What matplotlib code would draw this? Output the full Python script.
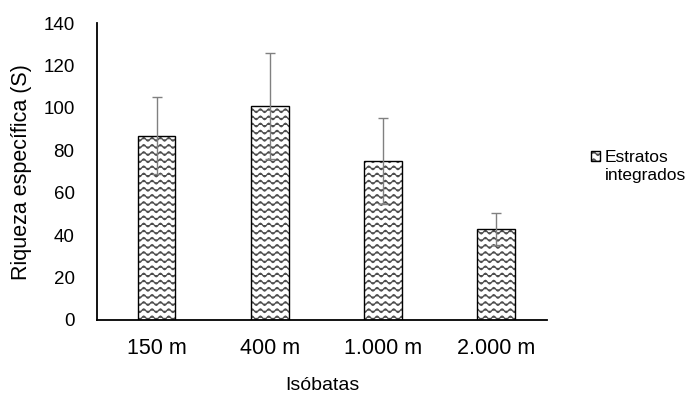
import warnings
import numpy as np
import matplotlib as mpl
mpl.use('Agg')
import matplotlib.pyplot as plt
from matplotlib import hatch as mhatch
from matplotlib.path import Path
from matplotlib.patches import Patch

warnings.filterwarnings('ignore')

isobatas = ['150 m', '400 m', '1.000 m', '2.000 m']
riqueza = [87, 101, 75, 43]
erro = [18, 25, 20.5, 7.5]


# wavy hatch ('~'), excel-like pattern
class WaveHatch(mhatch.HatchPatternBase):
    n_rows = 14
    n_waves = 12
    n_pts = 12 * 8 + 1

    def __init__(self, hatch, density):
        self.on = '~' in hatch
        self.num_vertices = self.n_rows * self.n_pts if self.on else 0

    def set_vertices_and_codes(self, vertices, codes):
        xs = np.linspace(0.0, 1.0, self.n_pts)
        ys = 0.018 * np.sin(2 * np.pi * self.n_waves * xs)
        for r in range(self.n_rows):
            y0 = (r + 0.5) / self.n_rows
            sl = slice(r * self.n_pts, (r + 1) * self.n_pts)
            vertices[sl, 0] = xs
            vertices[sl, 1] = y0 + ys
            codes[sl] = Path.LINETO
            codes[r * self.n_pts] = Path.MOVETO


mhatch._hatch_types.append(WaveHatch)

plt.rcParams['font.family'] = ['Liberation Sans', 'DejaVu Sans']
plt.rcParams['hatch.linewidth'] = 0.9

fig = plt.figure(figsize=(6.96, 4.0), dpi=100)
ax = fig.add_axes([0.139, 0.2, 0.647, 0.742])

x = np.arange(len(isobatas))
bars = ax.bar(x, riqueza, width=0.33, color='white', edgecolor='black',
              linewidth=1.0, hatch='~', zorder=2)
for b in bars:
    b._hatch_color = (0.3, 0.3, 0.3, 1.0)
ax.errorbar(x, riqueza, yerr=erro, fmt='none', ecolor='#808080',
            elinewidth=1.0, capsize=3.5, capthick=1.0, zorder=3)

ax.set_xlim(-0.53, 3.45)
ax.set_ylim(0, 140)
ax.set_yticks(range(0, 141, 20))
ax.set_xticks(x)
ax.set_xticklabels(isobatas)
ax.tick_params(axis='both', length=0)
ax.tick_params(axis='x', pad=13, labelsize=15.5)
ax.tick_params(axis='y', pad=16, labelsize=13.5)
for s in ['top', 'right']:
    ax.spines[s].set_visible(False)
ax.spines['left'].set_linewidth(1.3)
ax.spines['bottom'].set_linewidth(1.3)

ax.set_ylabel('Riqueza específica (S)', fontsize=15.5, labelpad=8)
ax.set_xlabel('Isóbatas', fontsize=14, labelpad=13)

# legend: handle next to the first line, second line without handle
blank = Patch(facecolor='none', edgecolor='none')
leg = fig.legend(handles=[bars, blank], labels=['Estratos', 'integrados'],
                 loc='upper left', bbox_to_anchor=(0.849, 0.625),
                 frameon=False, fontsize=12.5, handlelength=0.55,
                 handleheight=0.55, handletextpad=0.25, labelspacing=0.2,
                 borderpad=0, borderaxespad=0)

fig.savefig('out.png', dpi=100)
